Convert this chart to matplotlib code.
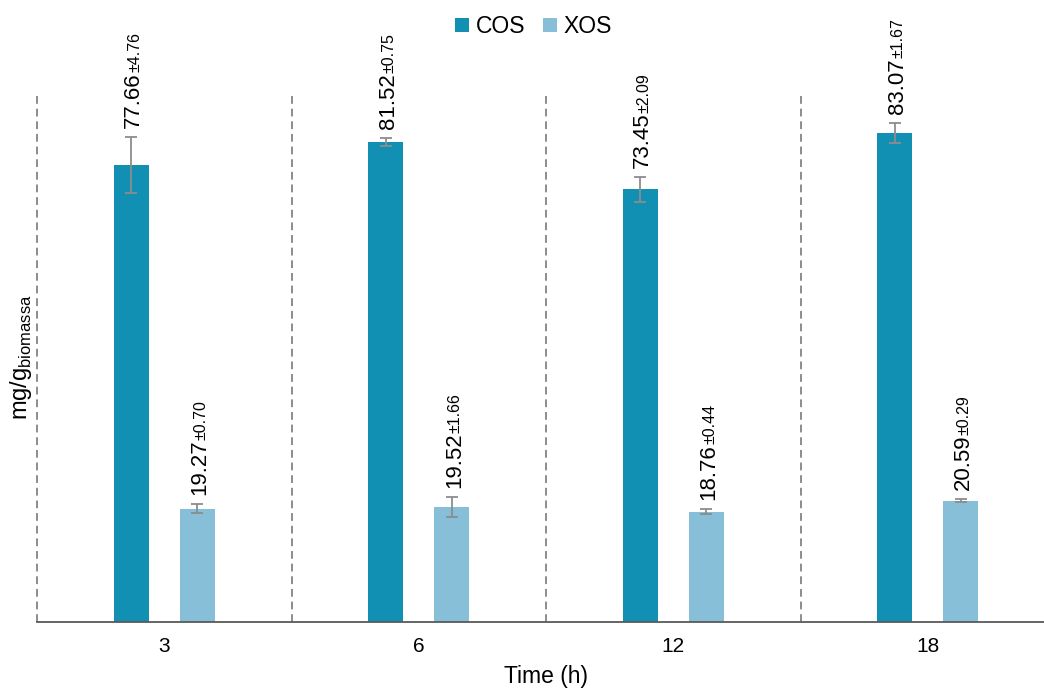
import numpy as np
import matplotlib
matplotlib.use('Agg')
import matplotlib.pyplot as plt
from matplotlib.transforms import offset_copy

plt.rcParams['font.family'] = ['Liberation Sans', 'DejaVu Sans']
plt.rcParams['mathtext.fontset'] = 'custom'
plt.rcParams['mathtext.rm'] = 'Liberation Sans'

# dados (mg/g biomassa)
tempos = ['3', '6', '12', '18']
cos_media = [77.66, 81.52, 73.45, 83.07]
cos_dp = [4.76, 0.75, 2.09, 1.67]
xos_media = [19.27, 19.52, 18.76, 20.59]
xos_dp = [0.70, 1.66, 0.44, 0.29]

cor_cos = '#1290B3'
cor_xos = '#88BFD8'
cinza = '#8C8C8C'

fig = plt.figure(figsize=(10.44, 6.93), dpi=100)
ax = fig.add_axes([37 / 1044, 71 / 693, 1018 / 1044, 530 / 693])

x = np.arange(len(tempos))
largura = 0.1375
desloc = 0.13

b1 = ax.bar(x - desloc, cos_media, largura, color=cor_cos, label='COS')
b2 = ax.bar(x + desloc, xos_media, largura, color=cor_xos, label='XOS')
ax.errorbar(x - desloc, cos_media, yerr=cos_dp, fmt='none', ecolor=cinza,
            elinewidth=1.3, capsize=4, capthick=1.3)
ax.errorbar(x + desloc, xos_media, yerr=xos_dp, fmt='none', ecolor=cinza,
            elinewidth=1.3, capsize=4, capthick=1.3)

# linhas tracejadas separando os grupos
ax.vlines(np.arange(len(tempos)) - 0.5, 0, 90, colors=cinza,
          linestyles=(0, (4, 2.5)), linewidth=1.4, clip_on=False)

ax.set_xlim(-0.5, len(tempos) - 0.5)
ax.set_ylim(0, 90)
ax.set_xticks(x)
ax.set_xticklabels(tempos, fontsize=15)
ax.tick_params(axis='x', length=0, pad=11)
ax.set_yticks([])
for lado in ['left', 'top', 'right']:
    ax.spines[lado].set_visible(False)
ax.spines['bottom'].set_color('#595959')
ax.spines['bottom'].set_linewidth(1.3)

ax.set_xlabel('Time (h)', fontsize=16.5, labelpad=6)
ax.set_ylabel(r'mg/g$_{\mathrm{biomassa}}$', fontsize=17)
ax.yaxis.set_label_coords(-0.003, 0.5)

# rótulos de valor
fig.canvas.draw()
r = fig.canvas.get_renderer()

def rotular(xs, medias, dps):
    for xi, m, d in zip(xs, medias, dps):
        tr = offset_copy(ax.transData, fig=fig, x=8, y=9, units='dots')
        t1 = ax.text(xi, m + d, f'{m:.2f}', transform=tr, rotation=90,
                     rotation_mode='anchor', ha='left', va='baseline', fontsize=16)
        h = t1.get_window_extent(r).height
        tr2 = offset_copy(ax.transData, fig=fig, x=8, y=9 + h, units='dots')
        ax.text(xi, m + d, f'±{d:.2f}', transform=tr2, rotation=90,
                rotation_mode='anchor', ha='left', va='baseline', fontsize=11.5)

rotular(x - desloc, cos_media, cos_dp)
rotular(x + desloc, xos_media, xos_dp)

fig.legend(handles=[b1, b2], loc='upper center', bbox_to_anchor=(0.511, 1.008),
           ncol=2, frameon=False, fontsize=16.5, handlelength=0.6,
           handleheight=0.6, handletextpad=0.3, columnspacing=0.8)

fig.savefig('out.png', dpi=100)
